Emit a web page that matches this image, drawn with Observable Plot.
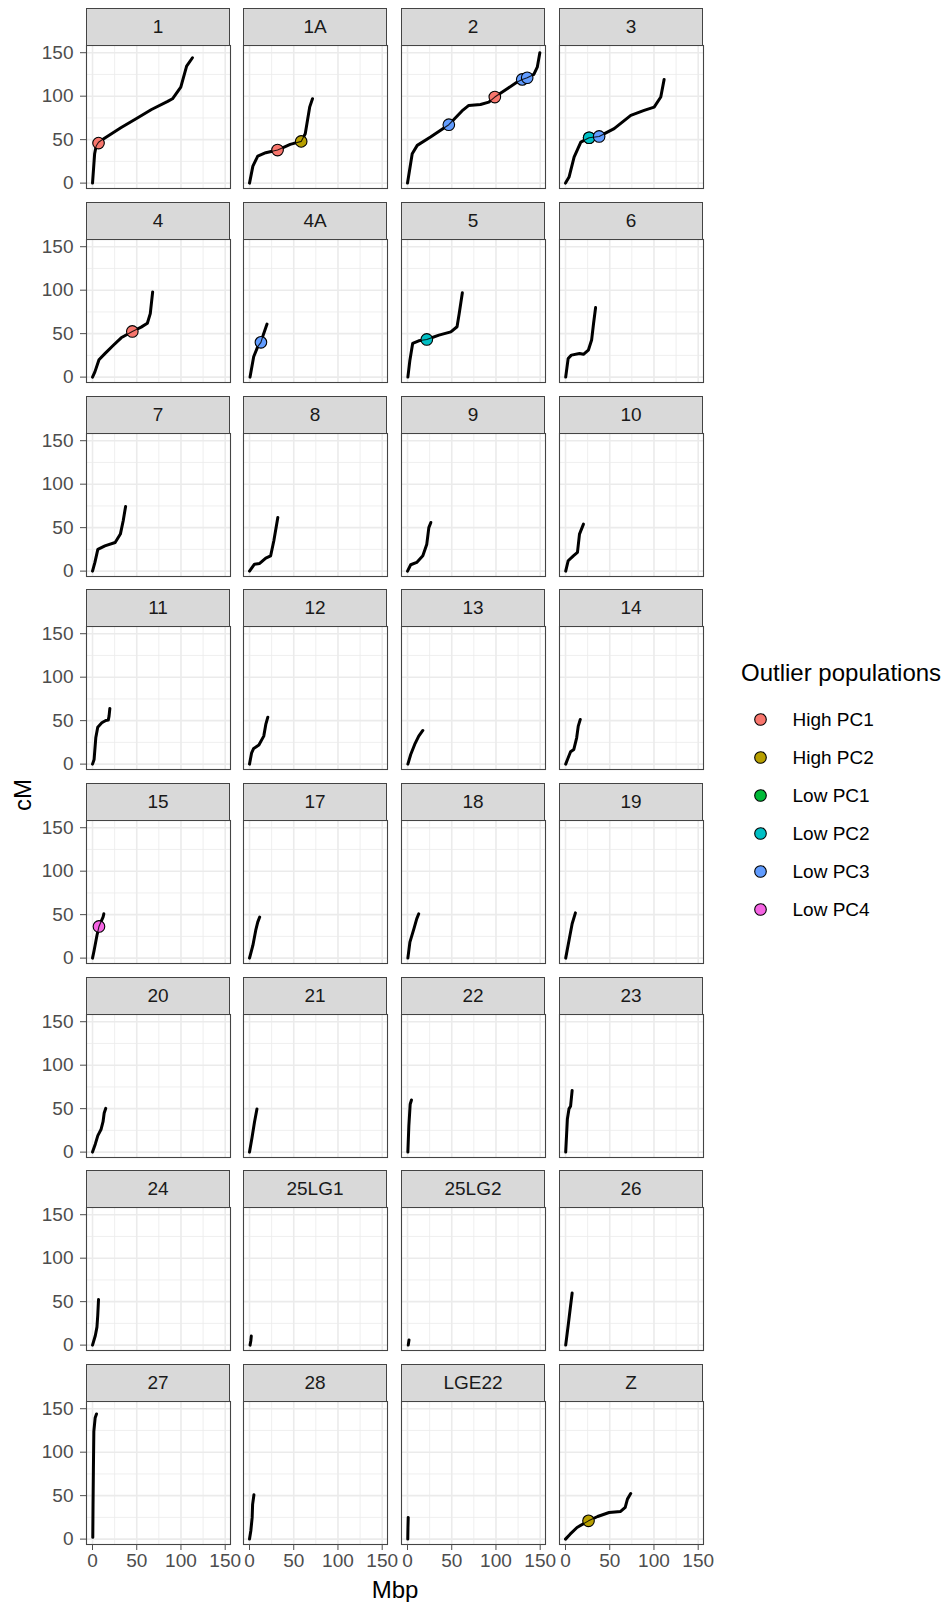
<!DOCTYPE html>
<html>
<head>
<meta charset="utf-8">
<script src="https://cdn.jsdelivr.net/npm/d3@7"></script>
<script src="https://cdn.jsdelivr.net/npm/@observablehq/plot@0.6"></script>
<style>
  html, body { margin: 0; padding: 0; background: #ffffff; }
  body { font-family: "Liberation Sans", Arial, Helvetica, sans-serif; }
  #chart { position: relative; width: 949px; height: 1602px; overflow: hidden; }
  .strip { position: absolute; box-sizing: border-box; background: #d9d9d9; border: 1px solid #444;
           font-size: 19px; color: #1a1a1a; display: flex; align-items: center; justify-content: center; }
  .atitle { position: absolute; font-size: 24px; color: #000; white-space: nowrap; line-height: 1; }
</style>
</head>
<body>
<div id="chart"></div>
<script>
// ---------------- data ----------------
const chromosomes = ["1","1A","2","3","4","4A","5","6","7","8","9","10","11","12","13","14",
  "15","17","18","19","20","21","22","23","24","25LG1","25LG2","26","27","28","LGE22","Z"];

// genetic map (Mbp, cM), in chromosome order
const mapMbp = [
  [0, 2.4, 4.1, 6.8, 14, 32, 50.7, 66.7, 85, 90.4, 99.8, 106.4, 113],
  [0, 3.8, 9.3, 18.4, 31.7, 46, 58.4, 63, 68, 71.2],
  [0, 5.3, 11, 26, 46.7, 61.6, 69.3, 82.5, 91.9, 98.7, 112.7, 124, 129.7, 135.3, 142.8, 146.7, 149.6],
  [0, 4, 9.7, 17.3, 26.7, 38, 55, 73.8, 88.9, 100.2, 107.7, 111.5],
  [0, 2.7, 7.3, 14, 23.3, 32.4, 45, 55, 62, 65.3, 68],
  [0.6, 4.7, 9.3, 12.9, 16, 19.8],
  [0.4, 2.7, 5.8, 12.7, 21.8, 35.5, 49, 56, 58.4, 62],
  [0.2, 3, 6.6, 15.8, 20.3, 25.8, 29.5, 31.7, 34],
  [0, 2.7, 6, 14, 25.6, 31.5, 34.7, 37.4],
  [0, 5.6, 11.5, 18.4, 23.9, 27.5, 32],
  [0, 3.6, 10.4, 17.3, 21.8, 24.1, 26.4],
  [0.2, 3, 8.9, 13.5, 15.8, 20.3],
  [0, 1.8, 3.7, 5.9, 10.5, 15, 17.8, 18.7, 19.6],
  [0, 2.4, 4.7, 10.6, 16.1, 18.4, 20.7],
  [0.4, 3.6, 8.1, 12.7, 17.3],
  [0.2, 3, 5.7, 9.4, 12.6, 14.4, 16.7],
  [0, 1.8, 5, 7.3, 11.9, 12.8],
  [0, 3.8, 7, 9.3, 11.5],
  [0.4, 2.7, 7.2, 10.4, 12.7],
  [0.2, 4.3, 7.5, 11.2],
  [0, 3.2, 6, 9.6, 11.9, 13.2, 15],
  [0, 2.9, 5.6, 8.4],
  [0.4, 1.5, 3, 4.5],
  [0.2, 2.1, 3.9, 5.7, 7.5],
  [0, 3.2, 5, 5.9, 6.8],
  [0.6, 1.5, 2],
  [0.8, 1.7],
  [0.2, 3, 5.3, 7.5],
  [0.3, 0.6, 1, 1.5, 3, 4.5],
  [0, 1.5, 3, 3.5, 5],
  [0.3, 0.5, 0.8],
  [0, 5.2, 13, 26, 36.3, 49.3, 62.3, 67.5, 70, 73.7]
];
const mapCM = [
  [0, 33.8, 42.6, 47, 52, 63.6, 75, 84.7, 94, 97, 110.4, 134.6, 144.2],
  [0, 19.5, 31, 35, 38, 44.5, 48, 56.8, 87.4, 97],
  [0, 33.8, 43.4, 53, 67.2, 83, 89.4, 90.5, 93.2, 99, 108.6, 116.2, 119.3, 121.2, 125, 133.4, 150],
  [0, 6.9, 29.9, 47.2, 52.2, 53.7, 62.6, 77.9, 83.6, 87.4, 99, 119.3],
  [0, 6, 20, 27, 36.4, 45.2, 52.5, 57.5, 62, 73, 98],
  [0, 23.4, 35, 40, 50, 61],
  [0, 19.5, 38.7, 41.8, 43.3, 48.3, 52, 57.9, 73, 97],
  [0, 21.5, 25.3, 27.2, 26.2, 31, 42.6, 61.7, 80],
  [0, 10, 25, 29, 32.9, 42.6, 58, 74.4],
  [0, 8, 8.8, 15, 17.6, 34.9, 61.7],
  [0, 7.3, 10, 17.6, 31, 50, 56],
  [0, 11.9, 17.6, 21.5, 42.6, 54],
  [0, 5.4, 30.3, 42.5, 47.5, 50.2, 50.6, 55.2, 64],
  [0, 13, 18, 21.9, 32.2, 45.6, 54],
  [0, 11, 22.6, 32.2, 38.7],
  [0, 7.3, 14.2, 16.9, 30.3, 43.7, 51.4],
  [0, 8.8, 26, 36.4, 47.2, 51],
  [0, 14.6, 31.8, 41.4, 47.2],
  [0, 18.4, 33.7, 45.2, 51],
  [0, 22.2, 39.5, 52],
  [0, 9.4, 19, 26, 35, 45, 50.4],
  [0, 17, 34.3, 49.7],
  [0, 30, 55, 60],
  [0, 38, 49.7, 52.7, 71],
  [0, 11, 20.7, 34, 52.5],
  [0, 5, 10.4],
  [0, 6],
  [0, 22.6, 41.8, 60],
  [2, 40, 80, 124, 139.7, 144],
  [0, 9.6, 25, 40, 51],
  [0, 13, 25],
  [0, 5.7, 13.4, 21, 26, 30.6, 31.8, 36.4, 46, 52.4]
];

// outlier loci
const outlierChrom = ["1","1A","1A","2","2","2","2","3","3","3","4","4A","5","15","Z"];
const outlierMbp   = [6.8, 31.7, 58.4, 46.7, 98.7, 129.7, 135.3, 26.7, 26.7, 38, 45, 12.9, 21.8, 7.3, 26];
const outlierCM    = [46, 38, 48, 67.2, 99, 119.3, 121.2, 52.2, 52.2, 53.7, 52.5, 40, 43.3, 36.4, 21];
const outlierPop   = ["High PC1","High PC1","High PC2","Low PC3","High PC1","Low PC3","Low PC3",
                      "Low PC1","Low PC2","Low PC3","High PC1","Low PC3","Low PC2","Low PC4","High PC2"];

const populations = ["High PC1","High PC2","Low PC1","Low PC2","Low PC3","Low PC4"];
const popColors   = ["#F8766D","#B79F00","#00BA38","#00BFC4","#619CFF","#F564E3"];

const xTicks = [0, 50, 100, 150];
const yTicks = [0, 50, 100, 150];
const xMinor = [25, 75, 125];
const yMinor = [25, 75, 125];

// ---------------- layout ----------------
const FONT = '"Liberation Sans", Arial, Helvetica, sans-serif';
const PW = 144, PH = 143, SH = 37;
const colLeft = c => Math.round(85.7 + 157.7 * c);
const rowTop = r => Math.round(8.3 + 193.7 * r);
const xDomain = [-6.8, 156];
const yDomain = [-6.2, 158.3];

const chart = document.getElementById("chart");
const outliers = outlierChrom.map((ch, k) => ({chrom: ch, mbp: outlierMbp[k], cm: outlierCM[k], pop: outlierPop[k]}));

chromosomes.forEach((chrom, i) => {
  const r = Math.floor(i / 4), c = i % 4;
  const left = colLeft(c), top = rowTop(r);
  const mL = c === 0 ? left : 1;
  const mB = r === 7 ? 45 : 1;
  const mT = 1, mR = 1;
  const rows = mapMbp[i].map((x, j) => ({mbp: x, cm: mapCM[i][j]}));
  const outs = outliers.filter(d => d.chrom === chrom);
  const gridMinor = {stroke: "#EBEBEB", strokeOpacity: 1, strokeWidth: 0.8};
  const gridMajor = {stroke: "#EBEBEB", strokeOpacity: 1, strokeWidth: 1.6};
  const marks = [
    Plot.gridX(xMinor, gridMinor),
    Plot.gridY(yMinor, gridMinor),
    Plot.gridX(xTicks, gridMajor),
    Plot.gridY(yTicks, gridMajor),
    Plot.line(rows, {x: "mbp", y: "cm", stroke: "#000", strokeWidth: 3, strokeLinecap: "round", strokeLinejoin: "round"}),
    Plot.dot(outs, {x: "mbp", y: "cm", fill: "pop", stroke: "#000", strokeWidth: 1.1, r: 5.8}),
    Plot.line(rows, {x: "mbp", y: "cm", stroke: "#000", strokeWidth: 1.1, strokeOpacity: 0.85}),
    Plot.frame({stroke: "#444", strokeWidth: 1.1})
  ];
  if (c === 0) marks.push(Plot.axisY(yTicks, {tickSize: 6, tickPadding: 7, fontSize: 19, label: null}));
  if (r === 7) marks.push(Plot.axisX(xTicks, {tickSize: 6, tickPadding: 3, fontSize: 19, label: null}));
  const svg = Plot.plot({
    width: mL + PW + mR,
    height: mT + PH + mB,
    marginLeft: mL, marginRight: mR, marginTop: mT, marginBottom: mB,
    x: {domain: xDomain, axis: null},
    y: {domain: yDomain, axis: null},
    color: {domain: populations, range: popColors},
    style: {fontFamily: FONT, fontSize: "19px", background: "transparent", color: "#4d4d4d", overflow: "visible"},
    marks
  });
  svg.style.position = "absolute";
  svg.style.left = (left - mL) + "px";
  svg.style.top = (top + SH - mT) + "px";
  chart.appendChild(svg);

  const strip = document.createElement("div");
  strip.className = "strip";
  strip.textContent = chrom;
  Object.assign(strip.style, {left: left + "px", top: top + "px", width: PW + "px", height: (SH + 1) + "px"});
  chart.appendChild(strip);
});

// axis titles
const cm = document.createElement("div");
cm.className = "atitle";
cm.textContent = "cM";
Object.assign(cm.style, {left: "23px", top: "795px", transform: "translate(-50%, -50%) rotate(-90deg)"});
chart.appendChild(cm);

const mbp = document.createElement("div");
mbp.className = "atitle";
mbp.textContent = "Mbp";
Object.assign(mbp.style, {left: "395px", top: "1590px", transform: "translate(-50%, -50%)"});
chart.appendChild(mbp);

// legend
const lt = document.createElement("div");
lt.className = "atitle";
lt.textContent = "Outlier populations";
Object.assign(lt.style, {left: "741px", top: "673px", transform: "translate(0, -50%)"});
chart.appendChild(lt);

const legend = Plot.plot({
  width: 208, height: 230,
  marginLeft: 0, marginRight: 0, marginTop: 0, marginBottom: 0,
  y: {type: "point", domain: populations, range: [17.3, 17.3 + 38.7 * 5], padding: 0, axis: null},
  color: {domain: populations, range: popColors},
  style: {fontFamily: FONT, fontSize: "19px", background: "transparent", color: "#000", overflow: "visible"},
  marks: [
    Plot.dot(populations, {y: d => d, fill: d => d, stroke: "#000", strokeWidth: 1.1, r: 5.8, frameAnchor: "left", dx: 19}),
    Plot.text(populations, {y: d => d, text: d => d, frameAnchor: "left", dx: 51, textAnchor: "start", fontSize: 19, fill: "#000"})
  ]
});
legend.style.position = "absolute";
legend.style.left = "741px";
legend.style.top = "700px";
chart.appendChild(legend);
</script>
</body>
</html>
